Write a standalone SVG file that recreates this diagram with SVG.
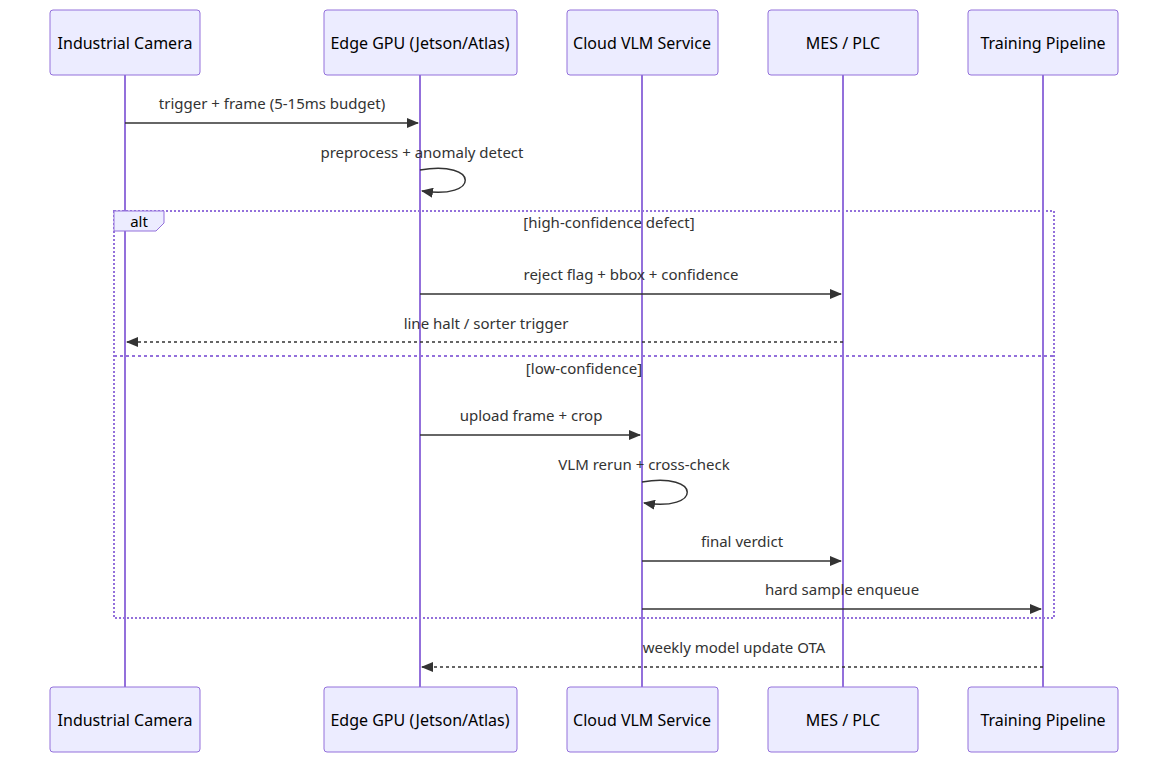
<svg xmlns="http://www.w3.org/2000/svg" width="1169" height="763" viewBox="0 0 1169 763">
<defs>
<style>
.actor{fill:#ECECFF;stroke:#9370DB;stroke-width:1}
.at{font-family:"Noto Sans","Open Sans",sans-serif;font-size:16px;fill:#000;text-anchor:middle;dominant-baseline:central}
.life{stroke:#9370DB;stroke-width:2}
.msg{stroke:#333;stroke-width:1.5;fill:none}
.dash{stroke-dasharray:3,3}
.mt{font-family:"Noto Sans","Open Sans",sans-serif;font-size:15px;fill:#333;text-anchor:middle}
.loop{stroke:#9370DB;stroke-width:2;fill:none;stroke-dasharray:2,2}
</style>
<marker id="ah" viewBox="0 0 12 10" refX="11" refY="5" markerWidth="12" markerHeight="10" markerUnits="userSpaceOnUse" orient="auto"><path d="M0,0 L12,5 L0,10 z" fill="#333"/></marker>
</defs>
<rect width="1169" height="763" fill="#fff"/>
<g id="lifelines">
<line class="life" x1="125" y1="75" x2="125" y2="687"/>
<line class="life" x1="420" y1="75" x2="420" y2="687"/>
<line class="life" x1="642" y1="75" x2="642" y2="687"/>
<line class="life" x1="843" y1="75" x2="843" y2="687"/>
<line class="life" x1="1043" y1="75" x2="1043" y2="687"/>
</g>
<g id="camera"><rect class="actor" x="50" y="10" width="150" height="65" rx="3"/><text class="at" x="125" y="43">Industrial Camera</text>
<rect class="actor" x="50" y="687" width="150" height="65" rx="3"/><text class="at" x="125" y="720">Industrial Camera</text></g>
<g id="edge"><rect class="actor" x="324" y="10" width="193" height="65" rx="3"/><text class="at" x="420" y="43">Edge GPU (Jetson/Atlas)</text>
<rect class="actor" x="324" y="687" width="193" height="65" rx="3"/><text class="at" x="420" y="720">Edge GPU (Jetson/Atlas)</text></g>
<g id="cloud"><rect class="actor" x="567" y="10" width="151" height="65" rx="3"/><text class="at" x="642" y="43">Cloud VLM Service</text>
<rect class="actor" x="567" y="687" width="151" height="65" rx="3"/><text class="at" x="642" y="720">Cloud VLM Service</text></g>
<g id="mes"><rect class="actor" x="768" y="10" width="150" height="65" rx="3"/><text class="at" x="843" y="43">MES / PLC</text>
<rect class="actor" x="768" y="687" width="150" height="65" rx="3"/><text class="at" x="843" y="720">MES / PLC</text></g>
<g id="training"><rect class="actor" x="968" y="10" width="150" height="65" rx="3"/><text class="at" x="1043" y="43">Training Pipeline</text>
<rect class="actor" x="968" y="687" width="150" height="65" rx="3"/><text class="at" x="1043" y="720">Training Pipeline</text></g>
<g id="alt">
<rect class="loop" x="114" y="211" width="940" height="407"/>
<path d="M114,211 H164 V223 L156,231 H114 Z" fill="#ECECFF" stroke="#9370DB"/>
<text class="mt" x="139" y="227" style="fill:#000">alt</text>
<text class="mt" x="609" y="228">[high-confidence defect]</text>
<line class="loop" x1="114" y1="356" x2="1054" y2="356" style="stroke-dasharray:3,3"/>
<text class="mt" x="584" y="374">[low-confidence]</text>
</g>
<g id="connectors">
<text class="mt" x="272" y="109">trigger + frame (5-15ms budget)</text>
<line class="msg" x1="125" y1="123" x2="418" y2="123" marker-end="url(#ah)"/>
<text class="mt" x="422" y="158">preprocess + anomaly detect</text>
<path class="msg" d="M420,170 C480,160 480,200 422,191" marker-end="url(#ah)"/>
<text class="mt" x="631" y="280">reject flag + bbox + confidence</text>
<line class="msg" x1="420" y1="294" x2="841" y2="294" marker-end="url(#ah)"/>
<text class="mt" x="486" y="329">line halt / sorter trigger</text>
<line class="msg dash" x1="843" y1="342" x2="127" y2="342" marker-end="url(#ah)"/>
<text class="mt" x="531" y="421">upload frame + crop</text>
<line class="msg" x1="420" y1="435" x2="640" y2="435" marker-end="url(#ah)"/>
<text class="mt" x="644" y="470">VLM rerun + cross-check</text>
<path class="msg" d="M642,482 C702,472 702,512 644,503" marker-end="url(#ah)"/>
<text class="mt" x="742" y="547">final verdict</text>
<line class="msg" x1="642" y1="561" x2="841" y2="561" marker-end="url(#ah)"/>
<text class="mt" x="842" y="595">hard sample enqueue</text>
<line class="msg" x1="642" y1="609" x2="1041" y2="609" marker-end="url(#ah)"/>
<text class="mt" x="734" y="653">weekly model update OTA</text>
<line class="msg dash" x1="1043" y1="667" x2="422" y2="667" marker-end="url(#ah)"/>
</g>
</svg>
